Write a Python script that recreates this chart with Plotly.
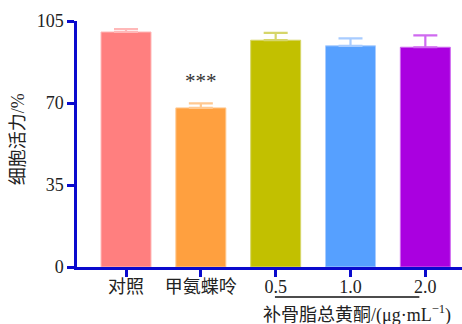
import plotly.graph_objects as go

categories = ["对照", "甲氨蝶呤", "0.5", "1.0", "2.0"]
values = [100.3, 67.9, 96.8, 94.4, 93.8]
errors = [1.2, 1.9, 3.1, 3.2, 5.1]
bar_colors = ["#FF7F7F", "#FFA03F", "#C2C000", "#56A0FF", "#AA00E0"]
err_colors = ["#FFB8B8", "#FFC890", "#D6D66A", "#A8CCFF", "#CF6AF0"]
y_ticks = [0, 35, 70, 105]
sig_label = "***"
y_title = "细胞活力/%"
x_title = "补骨脂总黄酮/(μg·mL<sup>−1</sup>)"

AX = "#0A0ACD"
FONT = "Liberation Serif, Times New Roman, Noto Sans CJK SC, serif"

fig = go.Figure()
for i, c in enumerate(categories):
    fig.add_trace(go.Bar(
        x=[c], y=[values[i]],
        marker=dict(color=bar_colors[i], line=dict(color=err_colors[i], width=1)),
        width=0.668,
        error_y=dict(type="data", symmetric=False, array=[errors[i]], arrayminus=[0],
                     color=err_colors[i], thickness=2.2, width=12),
        showlegend=False,
    ))

fig.add_annotation(x=categories[1], y=values[1] + errors[1] + 9.7, text=sig_label,
                   xanchor="center", yanchor="middle",
                   showarrow=False, font=dict(size=21, color="#333333", family=FONT),
                   xref="x", yref="y")

fig.add_annotation(x=-0.153, y=0.52, xref="paper", yref="paper", text=y_title,
                   xanchor="center", yanchor="middle",
                   textangle=-90, showarrow=False,
                   font=dict(size=18, color="#222222", family=FONT))
fig.add_annotation(x=0.727, y=-0.133, xref="paper", yref="paper", text=x_title,
                   xanchor="center", yanchor="top",
                   showarrow=False, font=dict(size=18, color="#222222", family=FONT))

# underline under dose group labels
fig.add_shape(type="line", xref="x", yref="paper",
              x0=categories.index("0.5") - 0.01, x1=categories.index("2.0") - 0.08,
              y0=-0.122, y1=-0.122, line=dict(color="#111111", width=1.3))

fig.update_layout(
    width=462, height=324,
    margin=dict(l=77, r=0, t=21, b=57),
    paper_bgcolor="white", plot_bgcolor="white",
    barmode="overlay",
    font=dict(family=FONT, color="#222222", size=18),
    xaxis=dict(type="category", categoryorder="array", categoryarray=categories,
               range=[-0.655, 4.49], showline=True, linecolor=AX, linewidth=2.5,
               ticks="outside", ticklen=7, tickwidth=2.5, tickcolor=AX,
               ticklabelstandoff=-5,
               showgrid=False, zeroline=False,
               tickfont=dict(size=18, family=FONT, color="#222222")),
    yaxis=dict(range=[0, 105], tickvals=y_ticks, showline=True, linecolor=AX,
               linewidth=2.5, ticks="outside", ticklen=7, tickwidth=2.5,
               tickcolor=AX, showgrid=False, zeroline=False,
               tickfont=dict(size=18, family=FONT, color="#222222")),
)

fig.write_html("out.html")
